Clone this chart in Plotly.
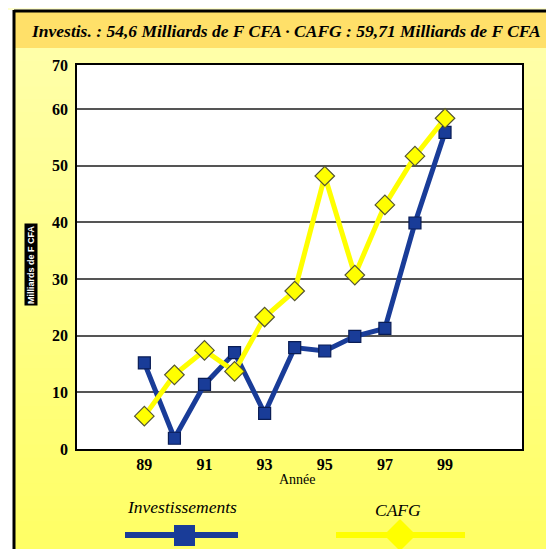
import plotly.graph_objects as go

years = [89, 90, 91, 92, 93, 94, 95, 96, 97, 98, 99]
investissements = [15.2, 1.9, 11.4, 17.0, 6.3, 17.9, 17.3, 19.9, 21.3, 39.9, 55.9]
cafg = [5.8, 13.1, 17.4, 13.7, 23.3, 27.9, 48.2, 30.7, 43.1, 51.7, 58.4]

x_tickvals = [89, 91, 93, 95, 97, 99]
x_ticktext = ["89", "91", "93", "95", "97", "99"]
y_top = 67.8
y_tickvals = [0, 10, 20, 30, 40, 50, 60, y_top]
y_ticktext = ["0", "10", "20", "30", "40", "50", "60", "70"]

title_text = "Investis. : 54,6 Milliards de F CFA · CAFG : 59,71 Milliards de F CFA"

OFF = 8  # page body margin
W, H = 554 - OFF, 549 - OFF
L, R, T, B = 77 - OFF, 522 - OFF, 65 - OFF, 449 - OFF  # plot area in figure px
PW, PH = R - L, B - T

def px(xp):  # xp: screen px
    return (xp - OFF - L) / PW

def py(yp):
    return (B - (yp - OFF)) / PH

BLUE = "#193C98"
YELLOW = "#FFFF00"

fig = go.Figure()
fig.add_trace(go.Scatter(
    x=years, y=investissements, mode="lines+markers", name="Investissements",
    line=dict(color=BLUE, width=5),
    marker=dict(symbol="square", size=12, color=BLUE, line=dict(color="#0A1D55", width=1.2)),
    showlegend=False,
))
fig.add_trace(go.Scatter(
    x=years, y=cafg, mode="lines+markers", name="CAFG",
    line=dict(color=YELLOW, width=5),
    marker=dict(symbol="diamond", size=15, color=YELLOW, line=dict(color="#555533", width=1.2)),
    showlegend=False,
))

shapes = []
top_body, bot_body = 48, 560
n = 40
c1 = (255, 255, 168)
c2 = (255, 255, 100)
for i in range(n):
    y0 = top_body + (bot_body - top_body) * i / n
    y1 = top_body + (bot_body - top_body) * (i + 1) / n + 1
    t = i / (n - 1)
    c = tuple(int(round(c1[k] + (c2[k] - c1[k]) * t)) for k in range(3))
    shapes.append(dict(type="rect", xref="paper", yref="paper", layer="below",
                       x0=px(14), x1=px(560), y0=py(y1), y1=py(y0),
                       fillcolor="rgb(%d,%d,%d)" % c, line=dict(width=0)))
# title band
shapes.append(dict(type="rect", xref="paper", yref="paper", layer="below",
                   x0=px(14), x1=px(560), y0=py(48), y1=py(11),
                   fillcolor="#FFE069", line=dict(width=0)))
# top strip pale
shapes.append(dict(type="rect", xref="paper", yref="paper", layer="below",
                   x0=px(0), x1=px(560), y0=py(10), y1=py(-2),
                   fillcolor="#FFFFD0", line=dict(width=0)))
# white plot background
shapes.append(dict(type="rect", xref="paper", yref="paper", layer="below",
                   x0=0, x1=1, y0=0, y1=1, fillcolor="white", line=dict(width=0)))
# black frame lines
shapes.append(dict(type="line", xref="paper", yref="paper", layer="below",
                   x0=px(14), x1=px(560), y0=py(11), y1=py(11),
                   line=dict(color="black", width=3)))
shapes.append(dict(type="line", xref="paper", yref="paper", layer="below",
                   x0=px(14), x1=px(14), y0=py(10), y1=py(560),
                   line=dict(color="black", width=3)))
# legend symbols
shapes.append(dict(type="line", xref="paper", yref="paper",
                   x0=px(125), x1=px(238), y0=py(535), y1=py(535),
                   line=dict(color=BLUE, width=6)))
shapes.append(dict(type="rect", xref="paper", yref="paper",
                   x0=px(174), x1=px(195), y0=py(546), y1=py(525),
                   fillcolor=BLUE, line=dict(width=0)))
shapes.append(dict(type="line", xref="paper", yref="paper",
                   x0=px(336), x1=px(465), y0=py(535), y1=py(535),
                   line=dict(color=YELLOW, width=6)))
dx, cx, cy = 16, 400, 535
shapes.append(dict(type="path", xref="paper", yref="paper",
                   path="M %f %f L %f %f L %f %f L %f %f Z" % (
                       px(cx - dx), py(cy), px(cx), py(cy - dx),
                       px(cx + dx), py(cy), px(cx), py(cy + dx)),
                   fillcolor=YELLOW, line=dict(width=0)))

annotations = [
    dict(text="<b><i>" + title_text + "</i></b>", xref="paper", yref="paper", x=px(286), y=py(31),
         showarrow=False, xanchor="center", yanchor="middle",
         font=dict(family="Liberation Serif", size=17.5, color="black")),
    dict(text="Année", xref="paper", yref="paper", x=px(297), y=py(479),
         showarrow=False, xanchor="center", yanchor="middle",
         font=dict(family="Liberation Serif", size=14, color="black")),
    dict(text="<i>Investissements</i>", xref="paper", yref="paper", x=px(182), y=py(507),
         showarrow=False, xanchor="center", yanchor="middle",
         font=dict(family="Liberation Serif", size=17.5, color="black")),
    dict(text="<i>CAFG</i>", xref="paper", yref="paper", x=px(398), y=py(510),
         showarrow=False, xanchor="center", yanchor="middle",
         font=dict(family="Liberation Serif", size=17.5, color="black")),
    dict(text="<b>Milliards de F CFA</b>", xref="paper", yref="paper", x=px(31), y=py(265),
         showarrow=False, xanchor="center", yanchor="middle", textangle=-90,
         bgcolor="black", borderpad=1,
         font=dict(family="Liberation Sans Narrow, Liberation Sans", size=9, color="white")),
]

fig.update_layout(
    width=W, height=H,
    margin=dict(l=L, r=W - R, t=T, b=H - B, pad=0),
    paper_bgcolor="white", plot_bgcolor="white",
    shapes=shapes, annotations=annotations,
    xaxis=dict(range=[86.76, 101.56], tickvals=x_tickvals, ticktext=x_ticktext,
               showgrid=False, zeroline=False, showline=True, linecolor="black",
               linewidth=1.5, mirror=True, ticks="", ticklen=0,
               tickfont=dict(family="Liberation Serif", size=16, color="black", weight="bold")),
    yaxis=dict(range=[0, y_top], tickvals=y_tickvals, ticktext=y_ticktext,
               showgrid=True, gridcolor="#555555", gridwidth=1.5, zeroline=False,
               showline=True, linecolor="black", linewidth=1.5, mirror=True,
               ticks="outside", ticklen=4, tickcolor="rgba(0,0,0,0)",
               tickfont=dict(family="Liberation Serif", size=16, color="black", weight="bold")),
    showlegend=False,
)

fig.write_html("out.html")
